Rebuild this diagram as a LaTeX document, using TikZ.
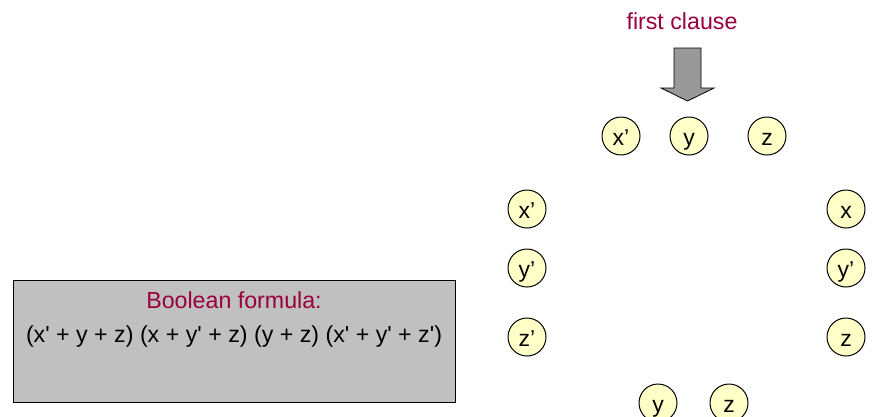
\documentclass[tikz,border=0pt]{standalone}
\usepackage{fontspec}
\setmainfont{Liberation Sans}
\usepackage{tikz}
\usetikzlibrary{positioning}

\definecolor{clausered}{HTML}{99003C}
\definecolor{litfill}{HTML}{FFFFC8}
\definecolor{boxgray}{HTML}{C0C0C0}
\definecolor{arrowgray}{HTML}{999999}

\begin{document}
\begin{tikzpicture}[x=1pt, y=-1pt,
    txt/.style={font=\fontsize{23.2}{28}\selectfont, inner sep=0pt, anchor=base},
    lit/.style={circle, draw, line width=1pt, fill=litfill, minimum size=38pt, inner sep=0pt, text height=18pt, text depth=0pt, font=\fontsize{23}{28}\selectfont},
    formbox/.style={rectangle, draw, line width=1pt, fill=boxgray, minimum width=442pt, minimum height=122pt, anchor=north west},
    blockarr/.style={draw, line width=0.8pt, fill=arrowgray}]
    \useasboundingbox (0,0) rectangle (874,416);
    % Formula box
    \node[formbox] (form) at (13,280) {};
    \node[txt, clausered] (formtitle) at (234,308) {Boolean formula:};
    \node[txt] (formula) at (234,342) {(x\textquotesingle{} + y + z) (x + y\textquotesingle{} + z) (y + z) (x\textquotesingle{} + y\textquotesingle{} + z\textquotesingle)};
    % Label and block arrow
    \node[txt, clausered] (first) at (682,29) {first clause};
    \coordinate (tip) at (687.5,101);
    \draw[blockarr] (tip) -- ++(-26.5,-13) -- ++(13,0) -- ++(0,-40) -- ++(27,0) -- ++(0,40) -- ++(13,0) -- cycle;
    % Clause 1: top row
    \node[lit] (c1a) at (621,136) {x’};
    \node[lit] (c1b) at (689,136) {y};
    \node[lit] (c1c) at (767,136) {z};
    % Clause 2: right column
    \node[lit] (c2a) at (846,209) {x};
    \node[lit] (c2b) at (846,268) {y’};
    \node[lit] (c2c) at (846,337) {z};
    % Clause 3: bottom row
    \node[lit] (c3a) at (658,403) {y};
    \node[lit] (c3b) at (729,403) {z};
    % Clause 4: left column
    \node[lit] (c4a) at (527,209) {x’};
    \node[lit] (c4b) at (527,268) {y’};
    \node[lit] (c4c) at (527,337) {z’};
\end{tikzpicture}
\end{document}
